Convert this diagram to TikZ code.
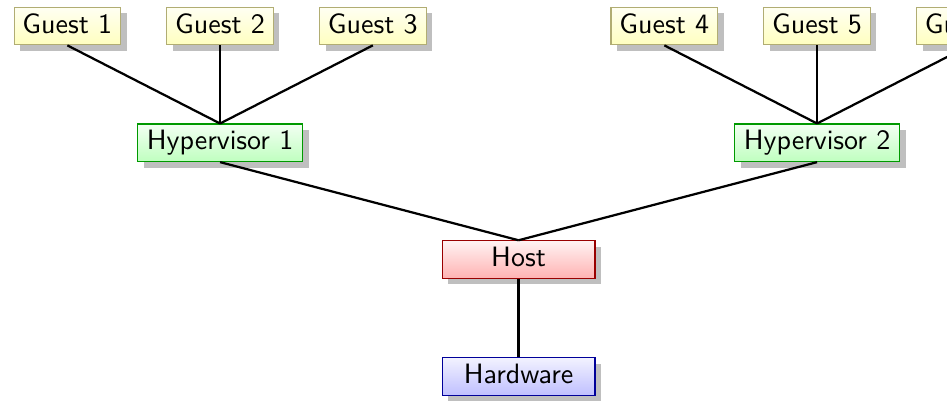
\documentclass[tikz,border=0pt]{standalone}
\usepackage{tikz}
\usetikzlibrary{positioning,shadows}

\begin{document}
\begin{tikzpicture}[
    node distance=27.9pt and 16.1pt,
    box/.style={draw, font=\sffamily, inner xsep=3pt, inner ysep=2.3pt,
      text height=6.9pt, text depth=1.9pt, drop shadow},
    guest/.style={box, draw=yellow!50!black!70, top color=yellow!5, bottom color=yellow!25, minimum width=37.9pt},
    hyp/.style={box, draw=green!60!black, top color=green!5, bottom color=green!25, minimum width=58.9pt},
    host/.style={box, draw=red!60!black, top color=red!5, bottom color=red!30, minimum width=54.6pt},
    hw/.style={box, draw=blue!60!black, top color=blue!5, bottom color=blue!25, minimum width=54.6pt},
    link/.style={thick}
  ]
    \useasboundingbox (-185.2pt,-50.5pt) rectangle (153pt,92.7pt);

    \node[host] (host) {Host};
    \node[hw, below=of host] (hw) {Hardware};

    \node[hyp, above=of host, xshift=-106.6pt] (hyp1) {Hypervisor 1};
    \node[hyp, above=of host, xshift=106.6pt] (hyp2) {Hypervisor 2};

    \node[guest, above=of hyp1] (g2) {Guest 2};
    \node[guest, left=of g2] (g1) {Guest 1};
    \node[guest, right=of g2] (g3) {Guest 3};

    \node[guest, above=of hyp2] (g5) {Guest 5};
    \node[guest, left=of g5] (g4) {Guest 4};
    \node[guest, right=of g5] (g6) {Guest 6};

    \draw[link] (host.south) -- (hw.north);
    \draw[link] (hyp1.south) -- (host.north);
    \draw[link] (hyp2.south) -- (host.north);

    \foreach \g in {g1,g2,g3}
      \draw[link] (\g.south) -- (hyp1.north);
    \foreach \g in {g4,g5,g6}
      \draw[link] (\g.south) -- (hyp2.north);
  \end{tikzpicture}
\end{document}
